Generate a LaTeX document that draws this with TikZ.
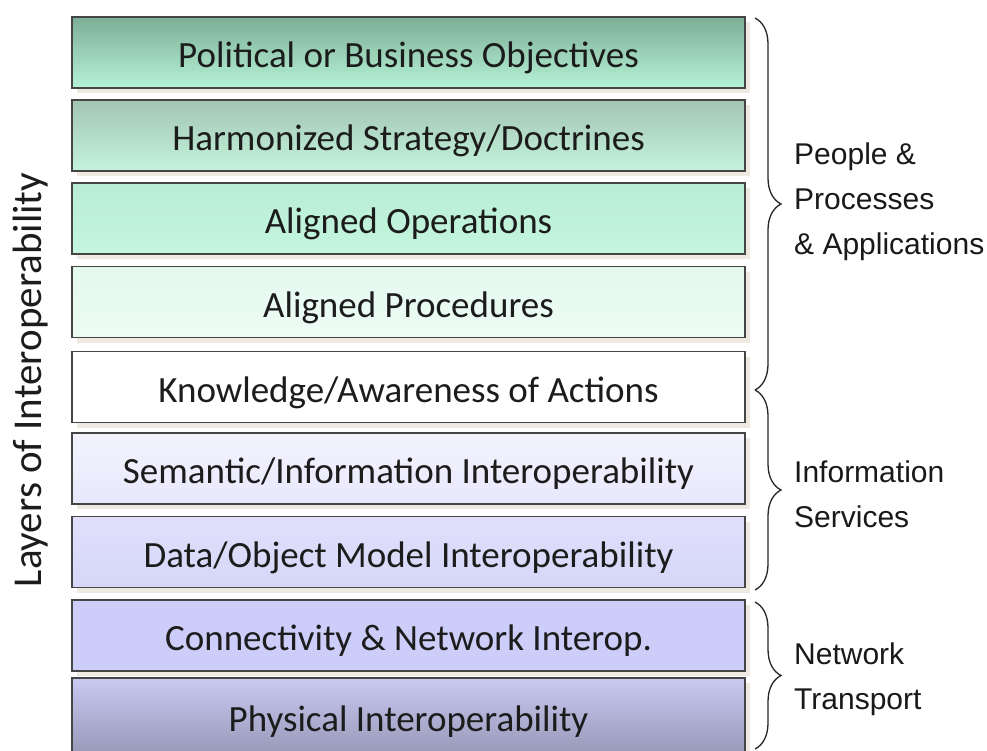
\documentclass[tikz,border=0pt]{standalone}
\usepackage{fontspec}
\setmainfont{Carlito}
\newfontfamily\labelfont{Liberation Sans}
\usetikzlibrary{decorations.pathreplacing,shadows}

\definecolor{edgegray}{HTML}{454545}
\definecolor{shadebeige}{HTML}{EEEAE2}
\definecolor{textgray}{HTML}{1C1C1C}
\definecolor{polTop}{HTML}{7DAE97}
\definecolor{polBot}{HTML}{B5F2D5}
\definecolor{stratTop}{HTML}{A3C5B4}
\definecolor{stratBot}{HTML}{C3F3DB}
\definecolor{opsTop}{HTML}{B8EDD3}
\definecolor{opsBot}{HTML}{C5F6DF}
\definecolor{procTop}{HTML}{E4F8EE}
\definecolor{procBot}{HTML}{EDFCF5}
\definecolor{semTop}{HTML}{F3F3FE}
\definecolor{semBot}{HTML}{E8E8FC}
\definecolor{dataTop}{HTML}{E0E0FC}
\definecolor{dataBot}{HTML}{D6D6F8}
\definecolor{connFill}{HTML}{CDCDFA}
\definecolor{physTop}{HTML}{C9C9F2}
\definecolor{physBot}{HTML}{9898B8}

\tikzset{
  layer/.style={draw=edgegray, line width=1.8pt, minimum width=673pt, minimum height=71pt,
    inner sep=0pt, text height=39pt, text depth=9pt, text=textgray, font=\fontsize{37}{44}\selectfont,
    drop shadow={shadow xshift=5pt, shadow yshift=-5pt, fill=shadebeige, opacity=1}},
  grp/.style={decorate, decoration={brace, amplitude=26pt}, draw=black!85, line width=1.3pt},
  grplabel/.style={anchor=west, align=left, inner sep=0pt, text=black!90,
    font=\labelfont\fontsize{30}{45}\selectfont}
}

\begin{document}
\begin{tikzpicture}[x=1pt,y=-1pt]
      \useasboundingbox (0,0) rectangle (987,751);

      % layers, top to bottom
      \node[layer, top color=polTop, bottom color=polBot] (pol) at (408.5,52.5) {Political or Business Objectives};
      \node[layer, top color=stratTop, bottom color=stratBot] (strat) at (408.5,135.5) {Harmonized Strategy/Doctrines};
      \node[layer, top color=opsTop, bottom color=opsBot] (ops) at (408.5,218.5) {Aligned Operations};
      \node[layer, top color=procTop, bottom color=procBot] (proc) at (408.5,302) {Aligned Procedures};
      \node[layer, fill=white] (know) at (408.5,387) {Knowledge/Awareness of Actions};
      \node[layer, top color=semTop, bottom color=semBot] (sem) at (408.5,468.5) {Semantic/Information Interoperability};
      \node[layer, top color=dataTop, bottom color=dataBot] (data) at (408.5,552) {Data/Object Model Interoperability};
      \node[layer, fill=connFill] (conn) at (408.5,635.5) {Connectivity \& Network Interop.};
      \node[layer, minimum height=76pt, top color=physTop, bottom color=physBot] (phys) at (408.5,716) {Physical Interoperability};

      \node[rotate=90, text=textgray, font=\fontsize{41}{48}\selectfont] (axis) at (31,380) {Layers of Interoperability};

      % groups
      \coordinate (g1a) at (755,18);
      \coordinate (g1b) at (755,390);
      \coordinate (g2b) at (755,590);
      \coordinate (g3a) at (755,602);
      \coordinate (g3b) at (755,749);
      \draw[grp] (g1a) -- (g1b);
      \draw[grp] (g1b) -- (g2b);
      \draw[grp] (g3a) -- (g3b);

      \node[grplabel] (people) at (794,202) {People \&\\Processes\\\& Applications};
      \node[grplabel] (info) at (794,494) {Information\\Services};
      \node[grplabel] (net) at (794,679) {Network\\Transport};
    \end{tikzpicture}
\end{document}
